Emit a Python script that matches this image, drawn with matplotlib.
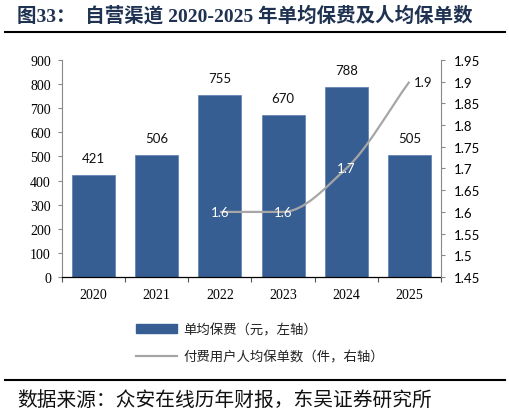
import matplotlib
matplotlib.use("Agg")
import matplotlib.pyplot as plt
from matplotlib.path import Path
from matplotlib.patches import PathPatch, Patch
from matplotlib.lines import Line2D
from matplotlib.ticker import FuncFormatter, MultipleLocator, FixedLocator
import numpy as np

# ---- data ----
years = ["2020", "2021", "2022", "2023", "2024", "2025"]
premium = [421, 506, 755, 670, 788, 505]
policy_years = ["2022", "2023", "2024", "2025"]
policies = [1.6, 1.6, 1.7, 1.9]

title = "图33：  自营渠道 2020-2025 年单均保费及人均保单数"
legend_labels = ["单均保费（元，左轴）", "付费用户人均保单数（件，右轴）"]
source = "数据来源：众安在线历年财报，东吴证券研究所"

BAR = "#375E92"
LINE = "#A6A6A6"
NAVY = "#1F3251"
SERIF = ["Liberation Serif", "Noto Sans CJK SC"]
SANS = ["Lato", "DejaVu Sans"]
CJK = ["Noto Sans CJK SC", "DejaVu Sans"]

fig = plt.figure(figsize=(5.1, 4.14), dpi=100)
ax = fig.add_axes([62 / 510, 1 - 278 / 414, (441 - 62) / 510, (278 - 61) / 414])

x = np.arange(len(years))
bars = ax.bar(x, premium, width=0.68, color=BAR, edgecolor="#5B7DB0", linewidth=0.5, zorder=2)
ax.set_xlim(-0.5, len(years) - 0.5)
ax.set_ylim(0, 900)
ax.yaxis.set_major_locator(MultipleLocator(100))
for b, v in zip(bars, premium):
    ax.annotate(str(v), (b.get_x() + b.get_width() / 2, v), xytext=(0, 8),
                textcoords="offset points", ha="center", va="bottom",
                fontsize=9.5, family=SANS, color="#111111")

ax.set_xticks(x)
ax.set_xticklabels(years, family=SERIF, fontsize=10)
ax.xaxis.set_minor_locator(FixedLocator(np.arange(-0.5, len(years), 1.0)))
ax.tick_params(axis="x", which="major", length=0, pad=8)
ax.tick_params(axis="x", which="minor", length=3.5, width=0.8, color="#555555", direction="out")
ax.tick_params(axis="y", length=3, width=0.8, color="#888888", pad=5, labelsize=10)
for lab in ax.get_yticklabels():
    lab.set_family(SERIF)
for s in ["top", "right"]:
    ax.spines[s].set_visible(False)
ax.spines["left"].set_color("#888888")
ax.spines["left"].set_linewidth(0.8)
ax.spines["bottom"].set_color("#000000")
ax.spines["bottom"].set_linewidth(0.9)
ax.spines["bottom"].set_zorder(5)

ax2 = ax.twinx()
ax2.set_ylim(1.45, 1.95)
ax2.yaxis.set_major_locator(MultipleLocator(0.05))
ax2.yaxis.set_major_formatter(FuncFormatter(lambda v, p: ("%.2f" % v).rstrip("0").rstrip(".")))
ax2.tick_params(axis="y", length=3, width=0.8, color="#888888", pad=6, labelsize=9.5)
for lab in ax2.get_yticklabels():
    lab.set_family(SANS)
for s in ["top", "left", "bottom"]:
    ax2.spines[s].set_visible(False)
ax2.spines["right"].set_color("#888888")
ax2.spines["right"].set_linewidth(0.8)

# smoothed line (monotone cubic bezier through the data points)
px = np.array([years.index(y) for y in policy_years], dtype=float)
py = np.array(policies, dtype=float)
n = len(px)
sec = np.diff(py) / np.diff(px)
tan = np.zeros(n)
tan[0] = sec[0]
tan[-1] = sec[-1]
for i in range(1, n - 1):
    if sec[i - 1] * sec[i] <= 0:
        tan[i] = 0.0
    else:
        tan[i] = 2.0 / (1.0 / sec[i - 1] + 1.0 / sec[i])
verts = [(px[0], py[0])]
codes = [Path.MOVETO]
for i in range(n - 1):
    h = px[i + 1] - px[i]
    verts += [(px[i] + h / 3, py[i] + tan[i] * h / 3),
              (px[i + 1] - h / 3, py[i + 1] - tan[i + 1] * h / 3),
              (px[i + 1], py[i + 1])]
    codes += [Path.CURVE4] * 3
ax2.add_patch(PathPatch(Path(verts, codes), facecolor="none", edgecolor=LINE, linewidth=1.6, zorder=3))

for xi, yi in zip(px, py):
    lab = "%.1f" % yi
    if xi == px[-1]:
        ax2.annotate(lab, (xi, yi), xytext=(3, 0), textcoords="offset points",
                     ha="left", va="center", fontsize=9.5, family=SANS, color="#111111")
    else:
        ax2.annotate(lab, (xi, yi), ha="center", va="center",
                     fontsize=9.5, family=SANS, color="white", zorder=4)

# legend
handles = [Patch(facecolor=BAR, edgecolor=BAR), Line2D([], [], color=LINE, linewidth=1.6)]
leg = fig.legend(handles, legend_labels, loc="upper left", bbox_to_anchor=(124 / 510, 1 - 311 / 414),
                 frameon=False, prop={"family": CJK, "size": 9.6}, handlelength=3.1,
                 handleheight=0.7, handletextpad=0.45, labelspacing=1.0)
for t in leg.get_texts():
    t.set_color("#222222")

# title, rules and source
fig.text(17 / 510, 1 - 16 / 414, title, family=SERIF, fontweight="bold", fontsize=14,
         color=NAVY, ha="left", va="center")
fig.add_artist(Line2D([5 / 510, 505 / 510], [1 - 33 / 414] * 2, color="black", linewidth=1.5))
fig.add_artist(Line2D([5 / 510, 505 / 510], [1 - 381 / 414] * 2, color="black", linewidth=1.5))
fig.text(17 / 510, 1 - 400 / 414, source, family=CJK, fontsize=14.2, color="#111111",
         ha="left", va="center")

fig.savefig("out.png", dpi=100)
